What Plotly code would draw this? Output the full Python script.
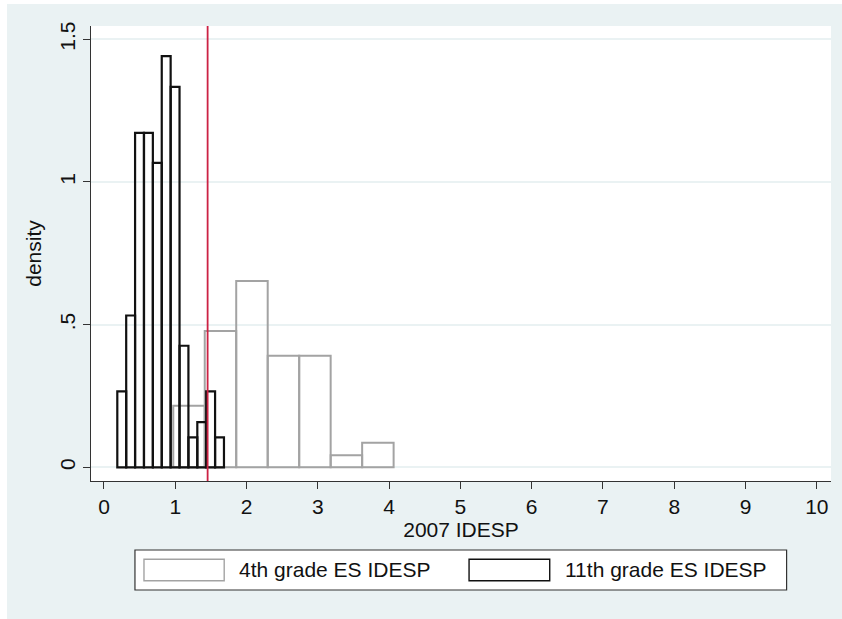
import plotly.graph_objects as go

# ---- data ----
grade4_bin_start = 0.972
grade4_bin_width = 0.4416
grade4_density = [0.216, 0.478, 0.653, 0.391, 0.391, 0.042, 0.086]

grade11_bin_start = 0.187
grade11_bin_width = 0.1247
grade11_density = [0.266, 0.532, 1.172, 1.172, 1.067, 1.441, 1.333,
                   0.426, 0.105, 0.158, 0.266, 0.105]

reference_line_x = 1.454

x_ticks = [0, 1, 2, 3, 4, 5, 6, 7, 8, 9, 10]
y_ticks = [0, 0.5, 1, 1.5]
y_tick_labels = ["0", ".5", "1", "1.5"]

series_names = ["4th grade ES IDESP", "11th grade ES IDESP"]

# ---- styling ----
BG = "#eaf2f3"
GRAY = "#a3a3a3"
BLACK = "#111111"
RED = "#cc2244"
FONT = "Liberation Sans, Arial, Helvetica, sans-serif"
FS = 21


def centers(start, width, n):
    return [start + width * (i + 0.5) for i in range(n)]


fig = go.Figure()

fig.add_trace(go.Bar(
    x=centers(grade4_bin_start, grade4_bin_width, len(grade4_density)),
    y=grade4_density,
    width=grade4_bin_width,
    name=series_names[0],
    marker=dict(color="rgba(0,0,0,0)", line=dict(color=GRAY, width=2)),
    showlegend=False,
))
fig.add_trace(go.Bar(
    x=centers(grade11_bin_start, grade11_bin_width, len(grade11_density)),
    y=grade11_density,
    width=grade11_bin_width,
    name=series_names[1],
    marker=dict(color="rgba(0,0,0,0)", line=dict(color=BLACK, width=2.2)),
    showlegend=False,
))

# vertical reference line
fig.add_shape(type="line", xref="x", yref="paper",
              x0=reference_line_x, x1=reference_line_x, y0=0, y1=1,
              line=dict(color=RED, width=1.8))

# ---- manual legend (Stata-style) ----
fig.add_shape(type="rect", xref="paper", yref="paper",
              x0=0.0594, x1=0.940, y0=-0.2396, y1=-0.1516,
              line=dict(color="#333333", width=1.2), fillcolor="white")
fig.add_shape(type="rect", xref="paper", yref="paper",
              x0=0.0716, x1=0.180, y0=-0.2191, y1=-0.1721,
              line=dict(color=GRAY, width=1.4), fillcolor="white")
fig.add_shape(type="rect", xref="paper", yref="paper",
              x0=0.5109, x1=0.6199, y0=-0.2191, y1=-0.1721,
              line=dict(color=BLACK, width=1.4), fillcolor="white")
fig.add_annotation(xref="paper", yref="paper", x=0.1968, y=-0.1956,
                   text=series_names[0], showarrow=False,
                   xanchor="left", yanchor="middle",
                   font=dict(family=FONT, size=FS, color="#111111"))
fig.add_annotation(xref="paper", yref="paper", x=0.6378, y=-0.1956,
                   text=series_names[1], showarrow=False,
                   xanchor="left", yanchor="middle",
                   font=dict(family=FONT, size=FS, color="#111111"))

fig.update_layout(
    width=840, height=620,
    margin=dict(l=84, r=15.5, t=22, b=143),
    paper_bgcolor=BG,
    plot_bgcolor="white",
    barmode="overlay",
    font=dict(family=FONT, size=FS, color="#111111"),
    xaxis=dict(
        range=[-0.182, 10.199],
        tickmode="array", tickvals=x_ticks,
        ticks="outside", ticklen=7, tickwidth=1.2, tickcolor="#333333",
        showline=True, linecolor="#333333", linewidth=1.2,
        showgrid=False, zeroline=False,
        tickfont=dict(size=FS),
        title=dict(text="2007 IDESP", font=dict(size=FS), standoff=2),
    ),
    yaxis=dict(
        range=[-0.048, 1.5466],
        tickmode="array", tickvals=y_ticks, ticktext=y_tick_labels,
        tickangle=-90,
        ticks="outside", ticklen=7, tickwidth=1.2, tickcolor="#333333",
        showline=True, linecolor="#333333", linewidth=1.2,
        showgrid=True, gridcolor=BG, gridwidth=1.5,
        zeroline=False,
        tickfont=dict(size=FS),
        title=dict(text="density", font=dict(size=FS), standoff=8),
    ),
)

fig.write_html("out.html",
               post_script="document.body.style.margin='4px 0 0 7px';"
                           "document.body.style.overflow='hidden';")
